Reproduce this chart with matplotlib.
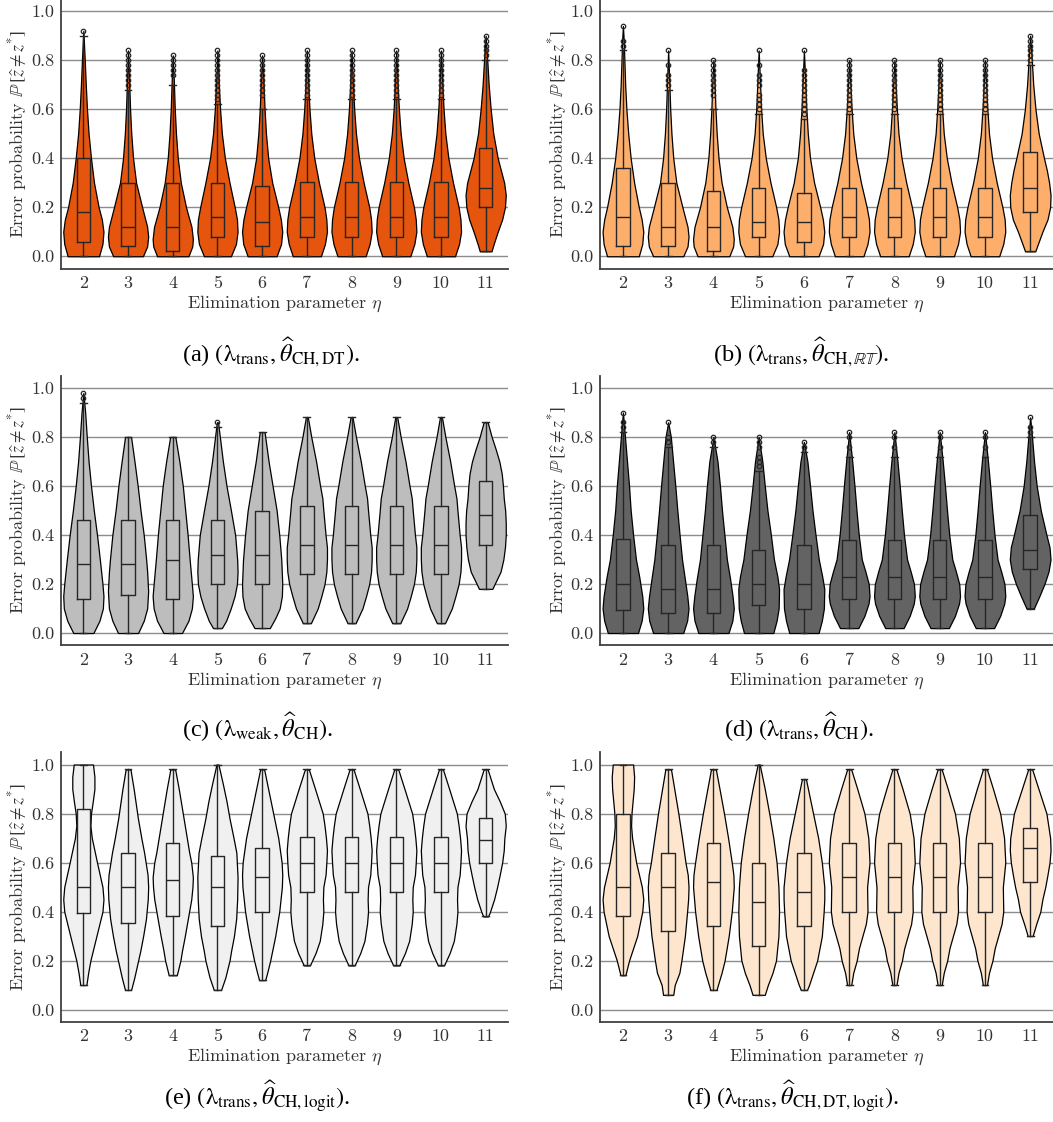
import numpy as np
import matplotlib.pyplot as plt

plt.rcParams['font.family'] = 'serif'
plt.rcParams['font.serif'] = ['cmr10']
plt.rcParams['mathtext.fontset'] = 'cm'
plt.rcParams['axes.formatter.use_mathtext'] = True

eta = [2, 3, 4, 5, 6, 7, 8, 9, 10, 11]

# ---- violin outlines: (error probability, relative width) ----
a2 = [(0, .78), (.05, .95), (.1, 1), (.15, .92), (.2, .76), (.3, .53), (.4, .38), (.5, .26), (.6, .18), (.7, .12), (.8, .07), (.92, 0)]
a3 = [(0, .74), (.04, .95), (.08, 1), (.12, .95), (.2, .7), (.3, .4), (.4, .25), (.5, .16), (.6, .1), (.7, .06), (.84, 0)]
a4 = [(0, .78), (.04, .97), (.07, 1), (.12, .93), (.2, .66), (.3, .4), (.4, .25), (.5, .16), (.6, .1), (.7, .06), (.82, 0)]
a5 = [(0, .67), (.05, .92), (.1, 1), (.15, .97), (.2, .86), (.3, .6), (.4, .37), (.5, .22), (.6, .13), (.7, .07), (.84, 0)]
a6 = [(0, .72), (.05, .94), (.1, 1), (.15, .93), (.2, .8), (.3, .5), (.4, .3), (.5, .19), (.6, .12), (.7, .07), (.82, 0)]
a7 = [(0, .7), (.05, .9), (.1, 1), (.15, .97), (.2, .88), (.3, .6), (.4, .37), (.5, .22), (.6, .13), (.7, .07), (.84, 0)]
a11 = [(.02, .29), (.05, .4), (.1, .6), (.15, .82), (.2, .96), (.25, 1), (.3, .92), (.35, .76), (.4, .6), (.5, .38), (.6, .25), (.7, .15), (.8, .08), (.9, 0)]

b2 = [(0, .78), (.05, .95), (.1, 1), (.15, .92), (.2, .78), (.3, .55), (.4, .38), (.5, .26), (.6, .17), (.7, .11), (.8, .07), (.88, .04), (.94, 0)]
b3 = [(0, .74), (.04, .95), (.08, 1), (.12, .95), (.2, .7), (.3, .4), (.4, .25), (.5, .16), (.6, .1), (.7, .06), (.84, 0)]
b4 = [(0, .78), (.04, .97), (.07, 1), (.12, .93), (.2, .66), (.3, .4), (.4, .25), (.5, .16), (.6, .1), (.7, .06), (.8, 0)]
b5 = [(0, .67), (.05, .92), (.1, 1), (.15, .97), (.2, .86), (.3, .58), (.4, .35), (.5, .2), (.6, .12), (.7, .07), (.84, 0)]
b6 = [(0, .72), (.05, .94), (.1, 1), (.15, .93), (.2, .8), (.3, .5), (.4, .3), (.5, .19), (.6, .12), (.7, .07), (.84, 0)]
b7 = [(0, .7), (.05, .9), (.1, 1), (.15, .97), (.2, .86), (.3, .58), (.4, .35), (.5, .2), (.6, .12), (.7, .06), (.8, 0)]
b11 = [(.02, .25), (.05, .38), (.1, .6), (.15, .85), (.2, .98), (.25, 1), (.3, .93), (.35, .82), (.4, .68), (.5, .42), (.6, .26), (.7, .15), (.8, .08), (.9, 0)]

c2 = [(0, .5), (.05, .8), (.1, .97), (.15, 1), (.2, .95), (.3, .82), (.4, .68), (.5, .52), (.6, .38), (.7, .26), (.8, .17), (.9, .09), (.98, 0)]
c3 = [(0, .5), (.05, .78), (.1, .95), (.17, 1), (.25, .95), (.3, .9), (.4, .78), (.5, .62), (.6, .48), (.7, .32), (.8, .15)]
c4 = [(0, .46), (.05, .78), (.1, .95), (.15, 1), (.2, .95), (.3, .84), (.4, .74), (.5, .62), (.6, .5), (.7, .33), (.8, .13)]
c5 = [(.02, .22), (.05, .43), (.1, .66), (.15, .85), (.2, .97), (.25, 1), (.3, .98), (.4, .88), (.5, .67), (.6, .45), (.7, .27), (.8, .12), (.86, .03)]
c6 = [(.02, .38), (.06, .65), (.1, .87), (.15, .98), (.2, 1), (.3, .95), (.4, .85), (.5, .72), (.6, .52), (.7, .32), (.82, .12)]
c7 = [(.04, .2), (.1, .54), (.15, .72), (.2, .88), (.25, .97), (.3, 1), (.35, 1), (.4, .93), (.5, .82), (.55, .77), (.6, .66), (.7, .46), (.8, .22), (.88, .05)]
c11 = [(.18, .33), (.25, .74), (.3, .88), (.35, .96), (.4, 1), (.45, 1), (.5, .97), (.55, .9), (.6, .86), (.65, .8), (.7, .68), (.75, .5), (.8, .3), (.86, .1)]

d2 = [(0, .74), (.05, .92), (.1, 1), (.15, .95), (.23, .8), (.3, .64), (.4, .5), (.5, .38), (.6, .3), (.7, .2), (.8, .1), (.9, 0)]
d3 = [(0, .74), (.05, .93), (.1, 1), (.15, .94), (.22, .82), (.3, .68), (.4, .56), (.5, .45), (.6, .35), (.7, .24), (.8, .13), (.86, 0)]
d4 = [(0, .74), (.05, .93), (.1, 1), (.15, .94), (.22, .82), (.3, .66), (.4, .54), (.5, .42), (.6, .32), (.7, .2), (.8, 0)]
d5 = [(0, .72), (.05, .88), (.1, .98), (.18, 1), (.23, .92), (.3, .75), (.4, .6), (.5, .43), (.6, .3), (.7, .18), (.8, 0)]
d6 = [(0, .72), (.05, .88), (.1, .98), (.18, 1), (.23, .9), (.3, .73), (.4, .57), (.5, .42), (.6, .3), (.7, .17), (.78, 0)]
d7 = [(.02, .45), (.07, .75), (.12, .95), (.15, 1), (.2, .96), (.25, .8), (.3, .62), (.4, .47), (.5, .36), (.6, .26), (.7, .15), (.82, 0)]
d11 = [(.1, .18), (.15, .45), (.2, .7), (.25, .9), (.3, 1), (.35, .95), (.4, .8), (.5, .52), (.6, .32), (.7, .19), (.8, .09), (.88, 0)]

e2 = [(.1, .15), (.15, .24), (.2, .35), (.25, .5), (.3, .65), (.35, .8), (.4, .95), (.45, 1), (.5, .95), (.6, .68), (.7, .42), (.75, .35), (.8, .38), (.85, .47), (.9, .55), (.95, .55), (1, .48)]
e3 = [(.08, .15), (.13, .31), (.2, .5), (.24, .61), (.3, .75), (.37, .89), (.45, .98), (.5, 1), (.55, .97), (.64, .8), (.7, .66), (.78, .49), (.9, .28), (.98, .12)]
e4 = [(.14, .2), (.2, .38), (.24, .46), (.3, .6), (.37, .75), (.45, .92), (.5, .98), (.54, 1), (.6, .92), (.64, .82), (.7, .7), (.78, .54), (.9, .3), (.98, .12)]
e5 = [(.08, .18), (.13, .39), (.2, .6), (.24, .68), (.3, .82), (.37, .93), (.45, .98), (.54, 1), (.64, .94), (.7, .8), (.78, .6), (.85, .45), (.92, .27), (1, .05)]
e6 = [(.12, .15), (.15, .25), (.2, .4), (.3, .65), (.4, .85), (.5, .98), (.55, 1), (.6, .97), (.7, .8), (.8, .55), (.9, .3), (.98, .1)]
e7 = [(.18, .15), (.23, .43), (.28, .64), (.35, .77), (.4, .82), (.45, .8), (.5, .82), (.55, .93), (.6, .97), (.65, 1), (.7, .95), (.75, .88), (.8, .79), (.9, .41), (.98, .1)]
e11 = [(.38, .12), (.4, .22), (.45, .42), (.5, .57), (.55, .7), (.6, .82), (.65, .9), (.7, .93), (.75, 1), (.8, .95), (.85, .7), (.9, .41), (.98, .1)]

f2 = [(.14, .12), (.2, .3), (.25, .5), (.3, .7), (.4, .95), (.45, 1), (.5, .93), (.6, .65), (.7, .45), (.75, .4), (.8, .42), (.9, .53), (.95, .55), (1, .5)]
f3 = [(.06, .25), (.1, .32), (.15, .55), (.2, .65), (.3, .82), (.4, .93), (.45, .98), (.5, 1), (.55, .96), (.6, .85), (.7, .68), (.8, .5), (.9, .3), (.98, .14)]
f4 = [(.08, .15), (.1, .22), (.15, .4), (.2, .55), (.3, .75), (.4, .9), (.5, 1), (.55, .98), (.6, .9), (.7, .72), (.8, .52), (.9, .3), (.98, .12)]
f5 = [(.06, .3), (.1, .45), (.15, .68), (.2, .85), (.3, .97), (.4, 1), (.5, .97), (.6, .88), (.7, .72), (.8, .52), (.9, .3), (1, .05)]
f6 = [(.08, .15), (.1, .25), (.15, .45), (.2, .65), (.3, .88), (.4, .97), (.45, 1), (.5, 1), (.6, .88), (.7, .7), (.8, .45), (.9, .2), (.94, .1)]
f7 = [(.1, .1), (.15, .2), (.2, .37), (.25, .48), (.3, .65), (.35, .82), (.4, .9), (.5, .88), (.6, 1), (.7, .94), (.8, .75), (.9, .4), (.98, .1)]
f11 = [(.3, .12), (.35, .3), (.4, .5), (.45, .6), (.5, .74), (.55, .85), (.6, .95), (.65, 1), (.7, .98), (.8, .8), (.9, .41), (.98, .1)]

a_shapes = [a2, a3, a4, a5, a6, a7, a7, a7, a7, a11]
b_shapes = [b2, b3, b4, b5, b6, b7, b7, b7, b7, b11]
c_shapes = [c2, c3, c4, c5, c6, c7, c7, c7, c7, c11]
d_shapes = [d2, d3, d4, d5, d6, d7, d7, d7, d7, d11]
e_shapes = [e2, e3, e4, e5, e6, e7, e7, e7, e7, e11]
f_shapes = [f2, f3, f4, f5, f6, f7, f7, f7, f7, f11]

# ---- box plot statistics ----
a_lo = [0, 0, 0, 0, 0, 0, 0, 0, 0, .02]
a_q1 = [.06, .04, .02, .08, .04, .08, .08, .08, .08, .20]
a_med = [.18, .12, .12, .16, .14, .16, .16, .16, .16, .28]
a_q3 = [.40, .30, .30, .30, .285, .305, .305, .305, .305, .44]
a_hi = [.90, .68, .70, .62, .60, .64, .64, .64, .64, .80]
a_fl7 = [.66, .68, .70, .72, .74, .76, .78, .80, .82, .84]
a_fl = [[.92], [.70, .72, .74, .76, .78, .80, .82, .84], [.74, .76, .78, .80, .82],
        [.64, .66, .68, .70, .72, .74, .76, .78, .80, .82, .84], [.66, .68, .70, .72, .74, .76, .78, .80, .82],
        a_fl7, a_fl7, a_fl7, a_fl7, [.82, .84, .86, .88, .90]]

b_lo = [0, 0, 0, 0, 0, 0, 0, 0, 0, .02]
b_q1 = [.04, .04, .02, .08, .06, .08, .08, .08, .08, .18]
b_med = [.16, .12, .12, .14, .14, .16, .16, .16, .16, .28]
b_q3 = [.36, .30, .265, .28, .26, .28, .28, .28, .28, .425]
b_hi = [.84, .68, .60, .58, .56, .58, .58, .58, .58, .78]
b_fl7 = [.60, .62, .64, .66, .68, .70, .72, .74, .76, .78, .80]
b_fl = [[.86, .88, .94], [.70, .72, .74, .78, .84], [.66, .68, .70, .72, .74, .76, .78, .80],
        [.60, .62, .64, .66, .70, .72, .74, .78, .84], [.58, .60, .62, .64, .66, .68, .70, .72, .74, .76, .84],
        b_fl7, b_fl7, b_fl7, b_fl7, [.80, .82, .84, .86, .88, .90]]

c_lo = [0, 0, 0, .02, .02, .04, .04, .04, .04, .18]
c_q1 = [.14, .155, .14, .20, .20, .24, .24, .24, .24, .36]
c_med = [.28, .28, .30, .32, .32, .36, .36, .36, .36, .48]
c_q3 = [.46, .46, .46, .46, .50, .52, .52, .52, .52, .62]
c_hi = [.94, .80, .80, .84, .82, .88, .88, .88, .88, .86]
c_fl = [[.96, .98], [], [], [.86], [], [], [], [], [], []]

d_lo = [0, 0, 0, 0, 0, .02, .02, .02, .02, .10]
d_q1 = [.095, .08, .08, .115, .10, .14, .14, .14, .14, .26]
d_med = [.20, .18, .18, .20, .20, .23, .23, .23, .23, .34]
d_q3 = [.385, .36, .36, .34, .36, .38, .38, .38, .38, .48]
d_hi = [.82, .76, .76, .66, .74, .72, .72, .72, .72, .80]
d_fl = [[.84, .86, .90], [.78, .80, .86], [.78, .80], [.68, .70, .72, .76, .78, .80], [.76, .78],
        [.76, .80, .82], [.76, .80, .82], [.76, .80, .82], [.76, .80, .82], [.82, .84, .88]]

e_lo = [.10, .08, .14, .08, .12, .18, .18, .18, .18, .38]
e_q1 = [.395, .355, .38, .34, .40, .48, .48, .48, .48, .60]
e_med = [.50, .50, .53, .50, .54, .60, .60, .60, .60, .69]
e_q3 = [.82, .64, .68, .625, .66, .705, .705, .705, .705, .78]
e_hi = [1.0, .98, .98, 1.0, .98, .98, .98, .98, .98, .98]
e_fl = [[], [], [], [], [], [], [], [], [], []]

f_lo = [.14, .06, .08, .06, .08, .10, .10, .10, .10, .30]
f_q1 = [.38, .32, .34, .26, .34, .40, .40, .40, .40, .52]
f_med = [.50, .50, .52, .44, .48, .54, .54, .54, .54, .66]
f_q3 = [.80, .64, .68, .60, .64, .68, .68, .68, .68, .74]
f_hi = [1.0, .98, .98, 1.0, .94, .98, .98, .98, .98, .98]
f_fl = [[], [], [], [], [], [], [], [], [], []]

colors = ['#e6550d', '#fdae6b', '#bdbdbd', '#636363', '#f0f0f0', '#fee6ce']
captions = [r'(a) $(\mathrm{\lambda}_{\mathrm{trans}}, \widehat{\theta}_{\mathrm{CH,DT}})$.',
            r'(b) $(\mathrm{\lambda}_{\mathrm{trans}}, \widehat{\theta}_{\mathrm{CH},\mathbb{RT}})$.',
            r'(c) $(\mathrm{\lambda}_{\mathrm{weak}}, \widehat{\theta}_{\mathrm{CH}})$.',
            r'(d) $(\mathrm{\lambda}_{\mathrm{trans}}, \widehat{\theta}_{\mathrm{CH}})$.',
            r'(e) $(\mathrm{\lambda}_{\mathrm{trans}}, \widehat{\theta}_{\mathrm{CH,logit}})$.',
            r'(f) $(\mathrm{\lambda}_{\mathrm{trans}}, \widehat{\theta}_{\mathrm{CH,DT,logit}})$.']

W, H = 1053, 1122
fig = plt.figure(figsize=(W / 100, H / 100), dpi=100)

# axes rectangles in pixels: left, top, width, height
rects = [(61, -1, 447, 269.5), (600.3, -1, 452.5, 269.5),
         (61, 375.75, 447, 269.5), (600.3, 375.75, 452.5, 269.5),
         (61, 752.3, 447, 269.5), (600.3, 752.3, 452.5, 269.5)]
cap_pos = [(271, 352), (801, 352), (258, 727), (799, 727), (257, 1097), (792, 1097)]

data = [(a_shapes, a_lo, a_q1, a_med, a_q3, a_hi, a_fl),
        (b_shapes, b_lo, b_q1, b_med, b_q3, b_hi, b_fl),
        (c_shapes, c_lo, c_q1, c_med, c_q3, c_hi, c_fl),
        (d_shapes, d_lo, d_q1, d_med, d_q3, d_hi, d_fl),
        (e_shapes, e_lo, e_q1, e_med, e_q3, e_hi, e_fl),
        (f_shapes, f_lo, f_q1, f_med, f_q3, f_hi, f_fl)]

txt = '#333333'
for i in range(6):
    l, t, w, h = rects[i]
    ax = fig.add_axes([l / W, 1 - (t + h) / H, w / W, h / H])
    shapes, lo, q1, med, q3, hi, fl = data[i]

    ax.set_axisbelow(True)
    ax.yaxis.grid(True, color='#8c8c8c', lw=1.0)

    vp = []
    for s, m in zip(shapes, med):
        vp.append({'coords': [p[0] for p in s], 'vals': [p[1] for p in s],
                   'mean': m, 'median': m, 'min': s[0][0], 'max': s[-1][0], 'quantiles': []})
    parts = ax.violin(vp, positions=eta, widths=0.9, showmeans=False,
                      showextrema=False, showmedians=False)
    for body in parts['bodies']:
        body.set_facecolor(colors[i])
        body.set_edgecolor('black')
        body.set_alpha(1)
        body.set_linewidth(0.9)

    bst = []
    for k in range(10):
        bst.append({'whislo': lo[k], 'q1': q1[k], 'med': med[k], 'q3': q3[k],
                    'whishi': hi[k], 'fliers': fl[k]})
    line = dict(color='#262626', linewidth=1.0)
    ax.bxp(bst, positions=eta, widths=0.3, capwidths=0.15, zorder=3,
           boxprops=line, medianprops=line, whiskerprops=line, capprops=line,
           flierprops=dict(marker='o', markersize=3.2, markerfacecolor='none',
                           markeredgecolor='#262626', markeredgewidth=0.9))

    ax.set_xlim(1.5, 11.5)
    ax.set_ylim(-0.05, 1.05)
    ax.set_xticks(eta)
    ax.set_xticklabels([str(e) for e in eta])
    ax.set_yticks([0.0, 0.2, 0.4, 0.6, 0.8, 1.0])
    ax.set_yticklabels(['0.0', '0.2', '0.4', '0.6', '0.8', '1.0'])
    ax.tick_params(length=0, labelsize=13, colors=txt, pad=5)
    for sp in ['top', 'right']:
        ax.spines[sp].set_visible(False)
    for sp in ['left', 'bottom']:
        ax.spines[sp].set_color('#404040')
        ax.spines[sp].set_linewidth(1.3)
    ax.set_xlabel(r'Elimination parameter $\eta$', fontsize=13, color=txt, labelpad=2)
    ax.set_ylabel(r'Error probability $\mathbb{P}\,[\widehat{z} \neq z^{*}]$', fontsize=13,
                  color=txt, labelpad=1, math_fontfamily='stix')

    cx, cy = cap_pos[i]
    fig.text(cx / W, 1 - cy / H, captions[i], ha='center', va='center', fontsize=17.5,
             family='Liberation Serif', math_fontfamily='stix', color='black')

fig.savefig('out.png', dpi=100)
